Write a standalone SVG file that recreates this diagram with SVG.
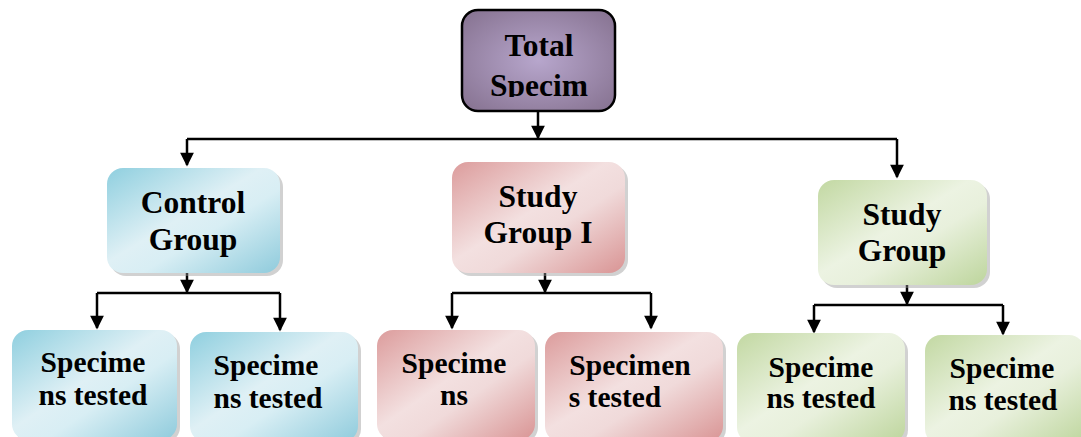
<svg xmlns="http://www.w3.org/2000/svg" width="1081" height="437" viewBox="0 0 1081 437">
<style>
  .t { font-family: "Liberation Serif", "Times New Roman", serif; font-weight: bold; fill: #000; text-anchor: middle; }
  .big { font-size: 31.5px; }
  .sm { font-size: 29.5px; }
  .conn { fill: none; stroke: #000; stroke-width: 2.5; }
  .shadow { fill: #9a9a9a; opacity: 0.45; }
</style>
<defs>
  <marker id="arr" viewBox="0 0 10 10" refX="9" refY="5" markerWidth="6" markerHeight="5.5" orient="auto" markerUnits="strokeWidth">
    <path d="M0,0 L10,5 L0,10 z" fill="#000"/>
  </marker>
  <clipPath id="clipTotal">
    <rect x="462" y="10" width="153" height="87"/>
  </clipPath>
  <radialGradient id="gPurple" cx="0.5" cy="0.5" r="0.7">
    <stop offset="0" stop-color="#b7a6cc"/>
    <stop offset="1" stop-color="#85718f"/>
  </radialGradient>
  <linearGradient id="gBlue" x1="0" y1="0" x2="1" y2="1">
    <stop offset="0" stop-color="#8fcfdf"/>
    <stop offset="0.45" stop-color="#dff0f5"/>
    <stop offset="0.6" stop-color="#d8eef4"/>
    <stop offset="1" stop-color="#8fcbdc"/>
  </linearGradient>
  <linearGradient id="gPink" x1="0" y1="0" x2="1" y2="1">
    <stop offset="0" stop-color="#dc9c9c"/>
    <stop offset="0.45" stop-color="#f3e0e0"/>
    <stop offset="0.6" stop-color="#f0dada"/>
    <stop offset="1" stop-color="#d99494"/>
  </linearGradient>
  <linearGradient id="gGreen" x1="0" y1="0" x2="1" y2="1">
    <stop offset="0" stop-color="#c2d8a2"/>
    <stop offset="0.45" stop-color="#ecf3e2"/>
    <stop offset="0.6" stop-color="#e8f0dc"/>
    <stop offset="1" stop-color="#bdd59c"/>
  </linearGradient>
</defs>
<rect width="1081" height="437" fill="#fff"/>

<g id="connectors">
  <path class="conn" d="M538,112 V138" marker-end="url(#arr)"/>
  <path class="conn" d="M187,139 H897"/>
  <path class="conn" d="M187,139 V165" marker-end="url(#arr)"/>
  <path class="conn" d="M897,139 V177" marker-end="url(#arr)"/>

  <path class="conn" d="M187,273 V292" marker-end="url(#arr)"/>
  <path class="conn" d="M97,293 H280"/>
  <path class="conn" d="M97,293 V328" marker-end="url(#arr)"/>
  <path class="conn" d="M280,293 V330" marker-end="url(#arr)"/>

  <path class="conn" d="M545,273 V292" marker-end="url(#arr)"/>
  <path class="conn" d="M452,293 H651"/>
  <path class="conn" d="M452,293 V328" marker-end="url(#arr)"/>
  <path class="conn" d="M651,293 V328" marker-end="url(#arr)"/>

  <path class="conn" d="M907,285 V304" marker-end="url(#arr)"/>
  <path class="conn" d="M814,305 H1003"/>
  <path class="conn" d="M814,305 V332" marker-end="url(#arr)"/>
  <path class="conn" d="M1003,305 V334" marker-end="url(#arr)"/>
</g>

<g id="total">
  <rect x="462" y="10" width="153" height="101" rx="16" fill="url(#gPurple)" stroke="#000" stroke-width="2.5"/>
  <g clip-path="url(#clipTotal)">
    <text class="t big" x="539" y="56">Total</text>
    <text class="t big" x="539" y="96">Specim</text>
  </g>
</g>

<g id="control">
  <rect class="shadow" x="110" y="171" width="173" height="105" rx="16"/>
  <rect x="107" y="168" width="173" height="105" rx="16" fill="url(#gBlue)"/>
  <text class="t big" x="193" y="213">Control</text>
  <text class="t big" x="193" y="250">Group</text>
</g>

<g id="study1">
  <rect class="shadow" x="455" y="165" width="173" height="111" rx="16"/>
  <rect x="452" y="162" width="173" height="111" rx="16" fill="url(#gPink)"/>
  <text class="t big" x="538" y="207">Study</text>
  <text class="t big" x="538" y="243">Group I</text>
</g>

<g id="study2">
  <rect class="shadow" x="821" y="183" width="169" height="105" rx="16"/>
  <rect x="818" y="180" width="169" height="105" rx="16" fill="url(#gGreen)"/>
  <text class="t big" x="902" y="225">Study</text>
  <text class="t big" x="902" y="261">Group</text>
</g>

<g id="c1">
  <rect class="shadow" x="15" y="333" width="165" height="110" rx="16"/>
  <rect x="12" y="330" width="165" height="110" rx="16" fill="url(#gBlue)"/>
  <text class="t sm" x="93" y="372">Specime</text>
  <text class="t sm" x="93" y="405">ns tested</text>
</g>

<g id="c2">
  <rect class="shadow" x="193" y="335" width="168" height="110" rx="16"/>
  <rect x="190" y="332" width="168" height="110" rx="16" fill="url(#gBlue)"/>
  <text class="t sm" x="266" y="375">Specime</text>
  <text class="t sm" x="268" y="408">ns tested</text>
</g>

<g id="s1a">
  <rect class="shadow" x="380" y="333" width="158" height="110" rx="16"/>
  <rect x="377" y="330" width="158" height="110" rx="16" fill="url(#gPink)"/>
  <text class="t sm" x="454" y="373">Specime</text>
  <text class="t sm" x="454" y="405">ns</text>
</g>

<g id="s1b">
  <rect class="shadow" x="548" y="335" width="178" height="110" rx="16"/>
  <rect x="545" y="332" width="178" height="110" rx="16" fill="url(#gPink)"/>
  <text class="t sm" x="630" y="375">Specimen</text>
  <text class="t sm" x="615" y="407">s tested</text>
</g>

<g id="s2a">
  <rect class="shadow" x="740" y="336" width="168" height="110" rx="16"/>
  <rect x="737" y="333" width="168" height="110" rx="16" fill="url(#gGreen)"/>
  <text class="t sm" x="821" y="377">Specime</text>
  <text class="t sm" x="821" y="408">ns tested</text>
</g>

<g id="s2b">
  <rect class="shadow" x="928" y="338" width="160" height="110" rx="16"/>
  <rect x="925" y="335" width="160" height="110" rx="16" fill="url(#gGreen)"/>
  <text class="t sm" x="1002" y="378">Specime</text>
  <text class="t sm" x="1003" y="410">ns tested</text>
</g>
</svg>
